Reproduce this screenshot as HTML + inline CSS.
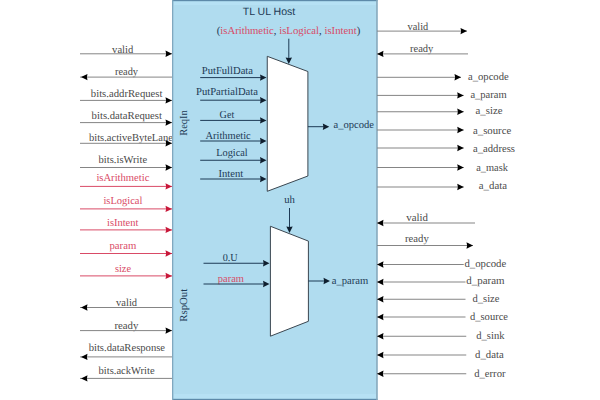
<!DOCTYPE html>
<html><head><meta charset="utf-8"><style>
html,body{margin:0;padding:0;background:#fff;width:600px;height:400px;overflow:hidden}
svg{display:block}
text{text-rendering:geometricPrecision}
</style></head><body>
<svg width="600" height="400" viewBox="0 0 600 400">
<text x="122.70" y="52.80" text-anchor="middle" font-family="Liberation Serif" font-size="10.7" fill="#4a4a4a" textLength="21.20" lengthAdjust="spacingAndGlyphs">valid</text>
<line x1="80" y1="53.8" x2="172.5" y2="53.8" stroke="#858585" stroke-width="1"/>
<path d="M172,53.8 L165.5,50.599999999999994 L166.1,53.8 L165.5,57.0 Z" fill="#000"/>
<text x="126.50" y="75.10" text-anchor="middle" font-family="Liberation Serif" font-size="10.7" fill="#4a4a4a" textLength="23.00" lengthAdjust="spacingAndGlyphs">ready</text>
<line x1="80" y1="77.1" x2="172.5" y2="77.1" stroke="#858585" stroke-width="1"/>
<path d="M81,77.1 L87.5,73.89999999999999 L86.9,77.1 L87.5,80.3 Z" fill="#000"/>
<text x="126.65" y="96.80" text-anchor="middle" font-family="Liberation Serif" font-size="10.7" fill="#4a4a4a" textLength="71.70" lengthAdjust="spacingAndGlyphs">bits.addrRequest</text>
<line x1="80" y1="100.4" x2="172.5" y2="100.4" stroke="#858585" stroke-width="1"/>
<path d="M172,100.4 L165.5,97.2 L166.1,100.4 L165.5,103.60000000000001 Z" fill="#000"/>
<text x="126.80" y="119.20" text-anchor="middle" font-family="Liberation Serif" font-size="10.7" fill="#4a4a4a" textLength="70.40" lengthAdjust="spacingAndGlyphs">bits.dataRequest</text>
<line x1="80" y1="122.6" x2="172.5" y2="122.6" stroke="#858585" stroke-width="1"/>
<path d="M172,122.6 L165.5,119.39999999999999 L166.1,122.6 L165.5,125.8 Z" fill="#000"/>
<text x="133.00" y="140.50" text-anchor="middle" font-family="Liberation Serif" font-size="10.7" fill="#4a4a4a" textLength="88.00" lengthAdjust="spacingAndGlyphs">bits.activeByteLanes</text>
<line x1="80" y1="143.3" x2="172.5" y2="143.3" stroke="#858585" stroke-width="1"/>
<path d="M172,143.3 L165.5,140.10000000000002 L166.1,143.3 L165.5,146.5 Z" fill="#000"/>
<text x="122.85" y="163.00" text-anchor="middle" font-family="Liberation Serif" font-size="10.7" fill="#4a4a4a" textLength="48.50" lengthAdjust="spacingAndGlyphs">bits.isWrite</text>
<line x1="80" y1="167.5" x2="172.5" y2="167.5" stroke="#858585" stroke-width="1"/>
<path d="M172,167.5 L165.5,164.3 L166.1,167.5 L165.5,170.7 Z" fill="#000"/>
<text x="122.90" y="180.70" text-anchor="middle" font-family="Liberation Serif" font-size="10.7" fill="#d94a66" textLength="53.00" lengthAdjust="spacingAndGlyphs">isArithmetic</text>
<line x1="80" y1="186.4" x2="172.5" y2="186.4" stroke="#d94a66" stroke-width="1"/>
<path d="M172,186.4 L165.5,183.20000000000002 L166.1,186.4 L165.5,189.6 Z" fill="#c8183a"/>
<text x="122.90" y="204.30" text-anchor="middle" font-family="Liberation Serif" font-size="10.7" fill="#d94a66" textLength="39.00" lengthAdjust="spacingAndGlyphs">isLogical</text>
<line x1="80" y1="208.9" x2="172.5" y2="208.9" stroke="#d94a66" stroke-width="1"/>
<path d="M172,208.9 L165.5,205.70000000000002 L166.1,208.9 L165.5,212.1 Z" fill="#c8183a"/>
<text x="122.70" y="225.60" text-anchor="middle" font-family="Liberation Serif" font-size="10.7" fill="#d94a66" textLength="31.40" lengthAdjust="spacingAndGlyphs">isIntent</text>
<line x1="80" y1="229.9" x2="172.5" y2="229.9" stroke="#d94a66" stroke-width="1"/>
<path d="M172,229.9 L165.5,226.70000000000002 L166.1,229.9 L165.5,233.1 Z" fill="#c8183a"/>
<text x="122.88" y="248.50" text-anchor="middle" font-family="Liberation Serif" font-size="10.7" fill="#d94a66" textLength="26.75" lengthAdjust="spacingAndGlyphs">param</text>
<line x1="80" y1="253.5" x2="172.5" y2="253.5" stroke="#d94a66" stroke-width="1"/>
<path d="M172,253.5 L165.5,250.3 L166.1,253.5 L165.5,256.7 Z" fill="#c8183a"/>
<text x="122.95" y="272.40" text-anchor="middle" font-family="Liberation Serif" font-size="10.7" fill="#d94a66" textLength="16.10" lengthAdjust="spacingAndGlyphs">size</text>
<line x1="80" y1="275.9" x2="172.5" y2="275.9" stroke="#d94a66" stroke-width="1"/>
<path d="M172,275.9 L165.5,272.7 L166.1,275.9 L165.5,279.09999999999997 Z" fill="#c8183a"/>
<text x="126.60" y="306.00" text-anchor="middle" font-family="Liberation Serif" font-size="10.7" fill="#4a4a4a" textLength="21.00" lengthAdjust="spacingAndGlyphs">valid</text>
<line x1="80" y1="307.5" x2="172.5" y2="307.5" stroke="#858585" stroke-width="1"/>
<path d="M81,307.5 L87.5,304.3 L86.9,307.5 L87.5,310.7 Z" fill="#000"/>
<text x="126.40" y="328.60" text-anchor="middle" font-family="Liberation Serif" font-size="10.7" fill="#4a4a4a" textLength="24.00" lengthAdjust="spacingAndGlyphs">ready</text>
<line x1="80" y1="330.6" x2="172.5" y2="330.6" stroke="#858585" stroke-width="1"/>
<path d="M172,330.6 L165.5,327.40000000000003 L166.1,330.6 L165.5,333.8 Z" fill="#000"/>
<text x="126.88" y="350.90" text-anchor="middle" font-family="Liberation Serif" font-size="10.7" fill="#4a4a4a" textLength="76.45" lengthAdjust="spacingAndGlyphs">bits.dataResponse</text>
<line x1="80" y1="356.9" x2="172.5" y2="356.9" stroke="#858585" stroke-width="1"/>
<path d="M81,356.9 L87.5,353.7 L86.9,356.9 L87.5,360.09999999999997 Z" fill="#000"/>
<text x="126.60" y="374.40" text-anchor="middle" font-family="Liberation Serif" font-size="10.7" fill="#4a4a4a" textLength="56.00" lengthAdjust="spacingAndGlyphs">bits.ackWrite</text>
<line x1="80" y1="378.4" x2="172.5" y2="378.4" stroke="#858585" stroke-width="1"/>
<path d="M81,378.4 L87.5,375.2 L86.9,378.4 L87.5,381.59999999999997 Z" fill="#000"/>
<rect x="172" y="0" width="205.5" height="400" fill="#b0dcef"/>
<rect x="174" y="1" width="202" height="4" fill="#b6e1f4"/>
<rect x="174" y="394" width="202" height="5" fill="#b6e1f4"/>
<rect x="172" y="0" width="205.5" height="1.2" fill="#5d8aa9"/>
<rect x="172" y="398.8" width="205.5" height="1.2" fill="#5d8aa9"/>
<rect x="172" y="0" width="1.3" height="400" fill="#80a8bf"/>
<rect x="376.2" y="0" width="1.5" height="400" fill="#88a8bb"/>
<text x="417.95" y="30.10" text-anchor="middle" font-family="Liberation Serif" font-size="10.7" fill="#4a4a4a" textLength="20.70" lengthAdjust="spacingAndGlyphs">valid</text>
<line x1="377" y1="31.1" x2="467" y2="31.1" stroke="#858585" stroke-width="1"/>
<path d="M467,31.1 L460.5,27.900000000000002 L461.1,31.1 L460.5,34.300000000000004 Z" fill="#000"/>
<text x="421.65" y="52.40" text-anchor="middle" font-family="Liberation Serif" font-size="10.7" fill="#4a4a4a" textLength="23.30" lengthAdjust="spacingAndGlyphs">ready</text>
<line x1="377" y1="53.9" x2="468" y2="53.9" stroke="#858585" stroke-width="1"/>
<path d="M377,53.9 L383.5,50.699999999999996 L382.9,53.9 L383.5,57.1 Z" fill="#000"/>
<text x="488.35" y="79.70" text-anchor="middle" font-family="Liberation Serif" font-size="10.7" fill="#4a4a4a" textLength="40.70" lengthAdjust="spacingAndGlyphs">a_opcode</text>
<line x1="377" y1="77.3" x2="461" y2="77.3" stroke="#858585" stroke-width="1"/>
<path d="M461,77.3 L454.5,74.1 L455.1,77.3 L454.5,80.5 Z" fill="#000"/>
<text x="488.55" y="97.80" text-anchor="middle" font-family="Liberation Serif" font-size="10.7" fill="#4a4a4a" textLength="36.30" lengthAdjust="spacingAndGlyphs">a_param</text>
<line x1="377" y1="95.4" x2="463.7" y2="95.4" stroke="#858585" stroke-width="1"/>
<path d="M463.7,95.4 L457.2,92.2 L457.8,95.4 L457.2,98.60000000000001 Z" fill="#000"/>
<text x="489.00" y="114.15" text-anchor="middle" font-family="Liberation Serif" font-size="10.7" fill="#4a4a4a" textLength="27.00" lengthAdjust="spacingAndGlyphs">a_size</text>
<line x1="377" y1="111.75" x2="463.75" y2="111.75" stroke="#858585" stroke-width="1"/>
<path d="M463.75,111.75 L457.25,108.55 L457.85,111.75 L457.25,114.95 Z" fill="#000"/>
<text x="492.12" y="133.60" text-anchor="middle" font-family="Liberation Serif" font-size="10.7" fill="#4a4a4a" textLength="38.25" lengthAdjust="spacingAndGlyphs">a_source</text>
<line x1="377" y1="130" x2="463.75" y2="130" stroke="#858585" stroke-width="1"/>
<path d="M463.75,130 L457.25,126.8 L457.85,130 L457.25,133.2 Z" fill="#000"/>
<text x="494.00" y="151.70" text-anchor="middle" font-family="Liberation Serif" font-size="10.7" fill="#4a4a4a" textLength="42.00" lengthAdjust="spacingAndGlyphs">a_address</text>
<line x1="377" y1="148" x2="463.75" y2="148" stroke="#858585" stroke-width="1"/>
<path d="M463.75,148 L457.25,144.8 L457.85,148 L457.25,151.2 Z" fill="#000"/>
<text x="492.12" y="170.70" text-anchor="middle" font-family="Liberation Serif" font-size="10.7" fill="#4a4a4a" textLength="31.75" lengthAdjust="spacingAndGlyphs">a_mask</text>
<line x1="377" y1="167.5" x2="463.75" y2="167.5" stroke="#858585" stroke-width="1"/>
<path d="M463.75,167.5 L457.25,164.3 L457.85,167.5 L457.25,170.7 Z" fill="#000"/>
<text x="492.88" y="189.40" text-anchor="middle" font-family="Liberation Serif" font-size="10.7" fill="#4a4a4a" textLength="28.25" lengthAdjust="spacingAndGlyphs">a_data</text>
<line x1="377" y1="187" x2="463.75" y2="187" stroke="#858585" stroke-width="1"/>
<path d="M463.75,187 L457.25,183.8 L457.85,187 L457.25,190.2 Z" fill="#000"/>
<text x="417.12" y="220.60" text-anchor="middle" font-family="Liberation Serif" font-size="10.7" fill="#4a4a4a" textLength="21.75" lengthAdjust="spacingAndGlyphs">valid</text>
<line x1="377" y1="223" x2="475" y2="223" stroke="#858585" stroke-width="1"/>
<path d="M377,223 L383.5,219.8 L382.9,223 L383.5,226.2 Z" fill="#000"/>
<text x="416.88" y="242.10" text-anchor="middle" font-family="Liberation Serif" font-size="10.7" fill="#4a4a4a" textLength="23.75" lengthAdjust="spacingAndGlyphs">ready</text>
<line x1="377" y1="245.5" x2="473" y2="245.5" stroke="#858585" stroke-width="1"/>
<path d="M473,245.5 L466.5,242.3 L467.1,245.5 L466.5,248.7 Z" fill="#000"/>
<text x="485.38" y="266.90" text-anchor="middle" font-family="Liberation Serif" font-size="10.7" fill="#4a4a4a" textLength="41.75" lengthAdjust="spacingAndGlyphs">d_opcode</text>
<line x1="377" y1="264.5" x2="463.75" y2="264.5" stroke="#858585" stroke-width="1"/>
<path d="M377,264.5 L383.5,261.3 L382.9,264.5 L383.5,267.7 Z" fill="#000"/>
<text x="485.38" y="284.40" text-anchor="middle" font-family="Liberation Serif" font-size="10.7" fill="#4a4a4a" textLength="38.25" lengthAdjust="spacingAndGlyphs">d_param</text>
<line x1="377" y1="282" x2="465.5" y2="282" stroke="#858585" stroke-width="1"/>
<path d="M377,282 L383.5,278.8 L382.9,282 L383.5,285.2 Z" fill="#000"/>
<text x="486.00" y="301.65" text-anchor="middle" font-family="Liberation Serif" font-size="10.7" fill="#4a4a4a" textLength="27.00" lengthAdjust="spacingAndGlyphs">d_size</text>
<line x1="377" y1="299.25" x2="465.5" y2="299.25" stroke="#858585" stroke-width="1"/>
<path d="M377,299.25 L383.5,296.05 L382.9,299.25 L383.5,302.45 Z" fill="#000"/>
<text x="489.00" y="320.30" text-anchor="middle" font-family="Liberation Serif" font-size="10.7" fill="#4a4a4a" textLength="38.00" lengthAdjust="spacingAndGlyphs">d_source</text>
<line x1="377" y1="317" x2="465.5" y2="317" stroke="#858585" stroke-width="1"/>
<path d="M377,317 L383.5,313.8 L382.9,317 L383.5,320.2 Z" fill="#000"/>
<text x="490.38" y="338.65" text-anchor="middle" font-family="Liberation Serif" font-size="10.7" fill="#4a4a4a" textLength="28.25" lengthAdjust="spacingAndGlyphs">d_sink</text>
<line x1="377" y1="336.25" x2="466.25" y2="336.25" stroke="#858585" stroke-width="1"/>
<path d="M377,336.25 L383.5,333.05 L382.9,336.25 L383.5,339.45 Z" fill="#000"/>
<text x="489.38" y="358.10" text-anchor="middle" font-family="Liberation Serif" font-size="10.7" fill="#4a4a4a" textLength="28.75" lengthAdjust="spacingAndGlyphs">d_data</text>
<line x1="377" y1="355" x2="466.25" y2="355" stroke="#858585" stroke-width="1"/>
<path d="M377,355 L383.5,351.8 L382.9,355 L383.5,358.2 Z" fill="#000"/>
<text x="489.88" y="376.65" text-anchor="middle" font-family="Liberation Serif" font-size="10.7" fill="#4a4a4a" textLength="31.25" lengthAdjust="spacingAndGlyphs">d_error</text>
<line x1="377" y1="373.75" x2="466.25" y2="373.75" stroke="#858585" stroke-width="1"/>
<path d="M377,373.75 L383.5,370.55 L382.9,373.75 L383.5,376.95 Z" fill="#000"/>
<text x="269.00" y="15.30" text-anchor="middle" font-family="Liberation Sans" font-size="10.5" fill="#1d3a55" textLength="52.60" lengthAdjust="spacingAndGlyphs">TL UL Host</text>
<text x="216.7" y="34" font-family="Liberation Serif" font-size="10.7" textLength="143.5" lengthAdjust="spacingAndGlyphs" fill="#1d3a55">(<tspan fill="#d94a66">isArithmetic</tspan>, <tspan fill="#d94a66">isLogical</tspan>, <tspan fill="#d94a66">isIntent</tspan>)</text>
<line x1="288.8" y1="38.7" x2="288.8" y2="60" stroke="#1d3a55" stroke-width="1"/>
<path d="M288.8,64 L285.6,57.5 L288.8,58.1 L292.0,57.5 Z" fill="#0f1f2f"/>
<polygon points="267.25,56.3 307.9,71.5 307.9,176 267.25,191.3" fill="#fff" stroke="#3a4650" stroke-width="1"/>
<text x="227.40" y="73.90" text-anchor="middle" font-family="Liberation Serif" font-size="10.7" fill="#1d3a55" textLength="51.20" lengthAdjust="spacingAndGlyphs">PutFullData</text>
<line x1="200.2" y1="77.6" x2="262" y2="77.6" stroke="#1d3a55" stroke-width="1"/>
<path d="M266.5,77.6 L260.0,74.39999999999999 L260.6,77.6 L260.0,80.8 Z" fill="#0f1f2f"/>
<text x="227.00" y="95.00" text-anchor="middle" font-family="Liberation Serif" font-size="10.7" fill="#1d3a55" textLength="62.00" lengthAdjust="spacingAndGlyphs">PutPartialData</text>
<line x1="200.2" y1="100.2" x2="262" y2="100.2" stroke="#1d3a55" stroke-width="1"/>
<path d="M266.5,100.2 L260.0,97.0 L260.6,100.2 L260.0,103.4 Z" fill="#0f1f2f"/>
<text x="226.90" y="117.90" text-anchor="middle" font-family="Liberation Serif" font-size="10.7" fill="#1d3a55" textLength="14.60" lengthAdjust="spacingAndGlyphs">Get</text>
<line x1="200.2" y1="120.4" x2="262" y2="120.4" stroke="#1d3a55" stroke-width="1"/>
<path d="M266.5,120.4 L260.0,117.2 L260.6,120.4 L260.0,123.60000000000001 Z" fill="#0f1f2f"/>
<text x="228.12" y="138.50" text-anchor="middle" font-family="Liberation Serif" font-size="10.7" fill="#1d3a55" textLength="45.25" lengthAdjust="spacingAndGlyphs">Arithmetic</text>
<line x1="200.2" y1="141" x2="262" y2="141" stroke="#1d3a55" stroke-width="1"/>
<path d="M266.5,141 L260.0,137.8 L260.6,141 L260.0,144.2 Z" fill="#0f1f2f"/>
<text x="232.00" y="155.75" text-anchor="middle" font-family="Liberation Serif" font-size="10.7" fill="#1d3a55" textLength="31.50" lengthAdjust="spacingAndGlyphs">Logical</text>
<line x1="200.2" y1="160.25" x2="262" y2="160.25" stroke="#1d3a55" stroke-width="1"/>
<path d="M266.5,160.25 L260.0,157.05 L260.6,160.25 L260.0,163.45 Z" fill="#0f1f2f"/>
<text x="230.88" y="176.70" text-anchor="middle" font-family="Liberation Serif" font-size="10.7" fill="#1d3a55" textLength="24.75" lengthAdjust="spacingAndGlyphs">Intent</text>
<line x1="200.2" y1="179" x2="262" y2="179" stroke="#1d3a55" stroke-width="1"/>
<path d="M266.5,179 L260.0,175.8 L260.6,179 L260.0,182.2 Z" fill="#0f1f2f"/>
<line x1="307.9" y1="126.7" x2="326" y2="126.7" stroke="#1d3a55" stroke-width="1"/>
<path d="M329.3,126.7 L322.8,123.5 L323.40000000000003,126.7 L322.8,129.9 Z" fill="#0f1f2f"/>
<text x="353.80" y="128.30" text-anchor="middle" font-family="Liberation Serif" font-size="10.7" fill="#1d3a55" textLength="40.40" lengthAdjust="spacingAndGlyphs">a_opcode</text>
<text x="289.50" y="203.00" text-anchor="middle" font-family="Liberation Serif" font-size="10.7" fill="#1d3a55">uh</text>
<line x1="289.5" y1="208" x2="289.5" y2="229" stroke="#1d3a55" stroke-width="1"/>
<path d="M289.5,233 L286.3,226.5 L289.5,227.1 L292.7,226.5 Z" fill="#0f1f2f"/>
<polygon points="270.4,226.25 308.4,241.1 308.4,321.3 270.4,336.2" fill="#fff" stroke="#3a4650" stroke-width="1"/>
<text x="230.20" y="261.00" text-anchor="middle" font-family="Liberation Serif" font-size="10.7" fill="#1d3a55" textLength="15.00" lengthAdjust="spacingAndGlyphs">0.U</text>
<line x1="203.5" y1="263.25" x2="265" y2="263.25" stroke="#1d3a55" stroke-width="1"/>
<path d="M269.5,263.25 L263.0,260.05 L263.6,263.25 L263.0,266.45 Z" fill="#0f1f2f"/>
<text x="230.88" y="282.00" text-anchor="middle" font-family="Liberation Serif" font-size="10.7" fill="#d94a66" textLength="26.25" lengthAdjust="spacingAndGlyphs">param</text>
<line x1="203.5" y1="284" x2="265" y2="284" stroke="#1d3a55" stroke-width="1"/>
<path d="M269.5,284 L263.0,280.8 L263.6,284 L263.0,287.2 Z" fill="#0f1f2f"/>
<line x1="308.4" y1="281" x2="327" y2="281" stroke="#1d3a55" stroke-width="1"/>
<path d="M330,281 L323.5,277.8 L324.1,281 L323.5,284.2 Z" fill="#0f1f2f"/>
<text x="350.00" y="284.00" text-anchor="middle" font-family="Liberation Serif" font-size="10.7" fill="#1d3a55" textLength="36.60" lengthAdjust="spacingAndGlyphs">a_param</text>
<text transform="translate(187,123) rotate(-90)" text-anchor="middle" font-family="Liberation Serif" font-size="10.7" fill="#1d3a55" textLength="25.5" lengthAdjust="spacingAndGlyphs">ReqIn</text>
<text transform="translate(187,305.25) rotate(-90)" text-anchor="middle" font-family="Liberation Serif" font-size="10.7" fill="#1d3a55" textLength="33" lengthAdjust="spacingAndGlyphs">RspOut</text>
</svg>
</body></html>
